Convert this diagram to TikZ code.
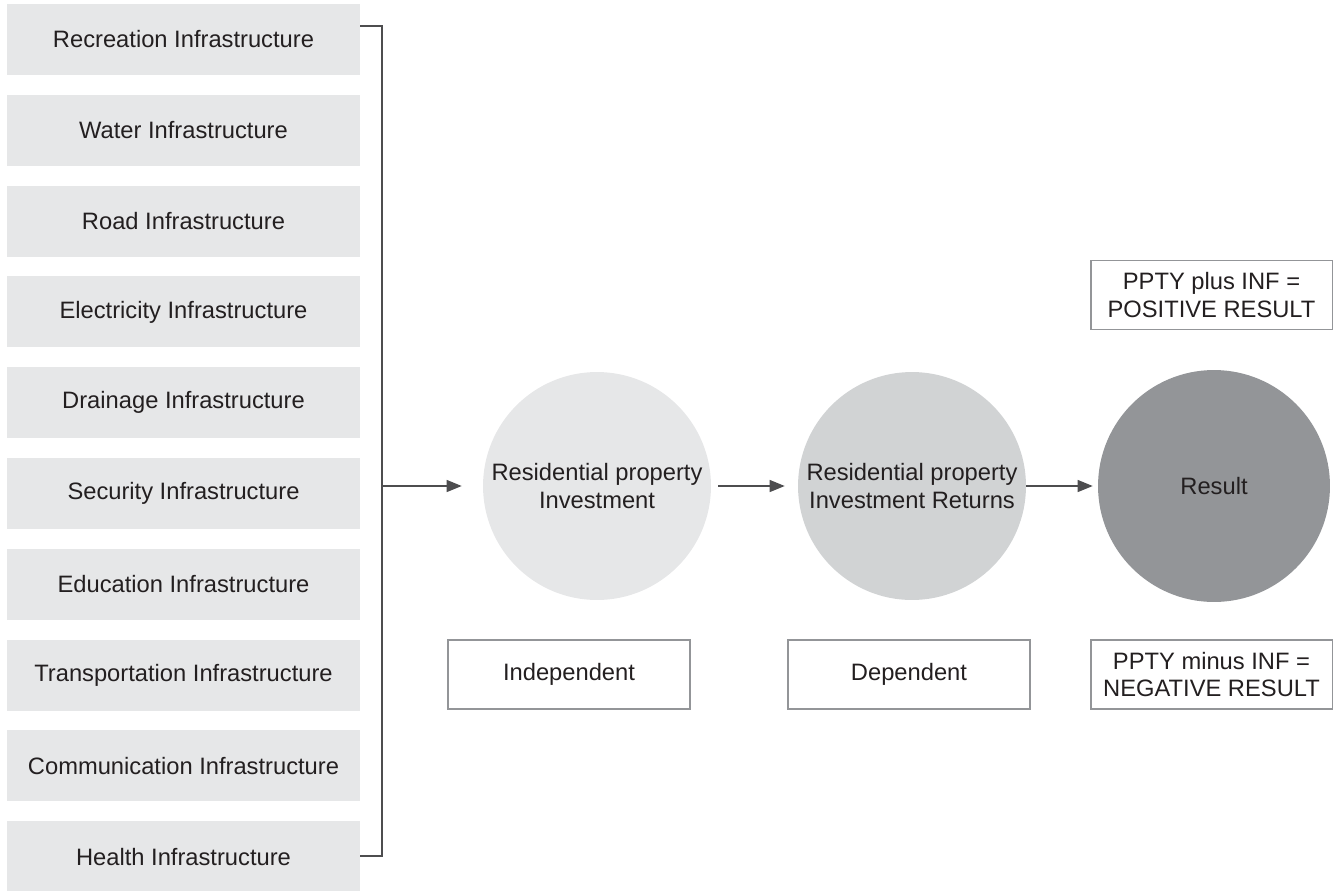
\documentclass[tikz,border=0pt]{standalone}
\usepackage{fontspec}
\setmainfont{Liberation Sans}
\usetikzlibrary{arrows.meta}

\definecolor{boxgray}{HTML}{E6E7E8}
\definecolor{midgray}{HTML}{D1D3D4}
\definecolor{resgray}{HTML}{939598}
\definecolor{edgegray}{HTML}{939598}
\definecolor{linegray}{HTML}{4D4D4F}
\definecolor{txtcol}{HTML}{231F20}

\begin{document}
\begin{tikzpicture}[x=0.02cm, y=-0.02cm,
        font=\fontsize{13.5}{15.8}\selectfont, text=txtcol,
        infbox/.style={fill=boxgray, minimum width=7.06cm, minimum height=1.42cm, inner sep=0pt},
        txtbox/.style={draw=edgegray, line width=1.1pt, fill=white, minimum width=4.84cm,
                minimum height=1.38cm, align=center, inner sep=0pt},
        bubble/.style={circle, minimum size=4.56cm, inner sep=0pt, align=center},
        link/.style={draw=linegray, line width=0.7pt, -{Triangle[length=0.3cm, width=0.24cm]}}]
        \useasboundingbox (0,0) rectangle (1338,890);

        % infrastructure list
        \foreach \name/\lbl [count=\i from 0] in {rec/Recreation, wat/Water, roa/Road,
                ele/Electricity, dra/Drainage, sec/Security, edu/Education,
                tra/Transportation, com/Communication, hea/Health}
                \node[infbox] (\name) at (183.5, {39.5+90.8*\i}) {\lbl\ Infrastructure};

        % bracket
        \coordinate (top) at (382,26);
        \coordinate (bot) at (382,856);
        \coordinate (join) at (382,486);
        \draw[linegray, line width=0.7pt] (rec.east |- top) -- (top) -- (bot) -- (hea.east |- bot);

        % circles
        \node[bubble, fill=boxgray] (inv) at (597,486) {Residential property\\Investment};
        \node[bubble, fill=midgray] (ret) at (912,486) {Residential property\\Investment Returns};
        \node[bubble, fill=resgray, minimum size=4.64cm] (res) at (1214,486) {Result};

        \draw[link, shorten >=0.42cm] (join) -- (inv);
        \draw[link, shorten <=0.14cm, shorten >=0.26cm] (inv) -- (ret);
        \draw[link, shorten >=0.1cm] (ret) -- (res);

        % labels
        \node[txtbox] (ind) at (569,674.5) {Independent};
        \node[txtbox] (dep) at (909,674.5) {Dependent};
        \node[txtbox] (pos) at (1211.5,295) {PPTY plus INF =\\POSITIVE RESULT};
        \node[txtbox] (neg) at (1211.5,674.5) {PPTY minus INF =\\NEGATIVE RESULT};
\end{tikzpicture}
\end{document}
